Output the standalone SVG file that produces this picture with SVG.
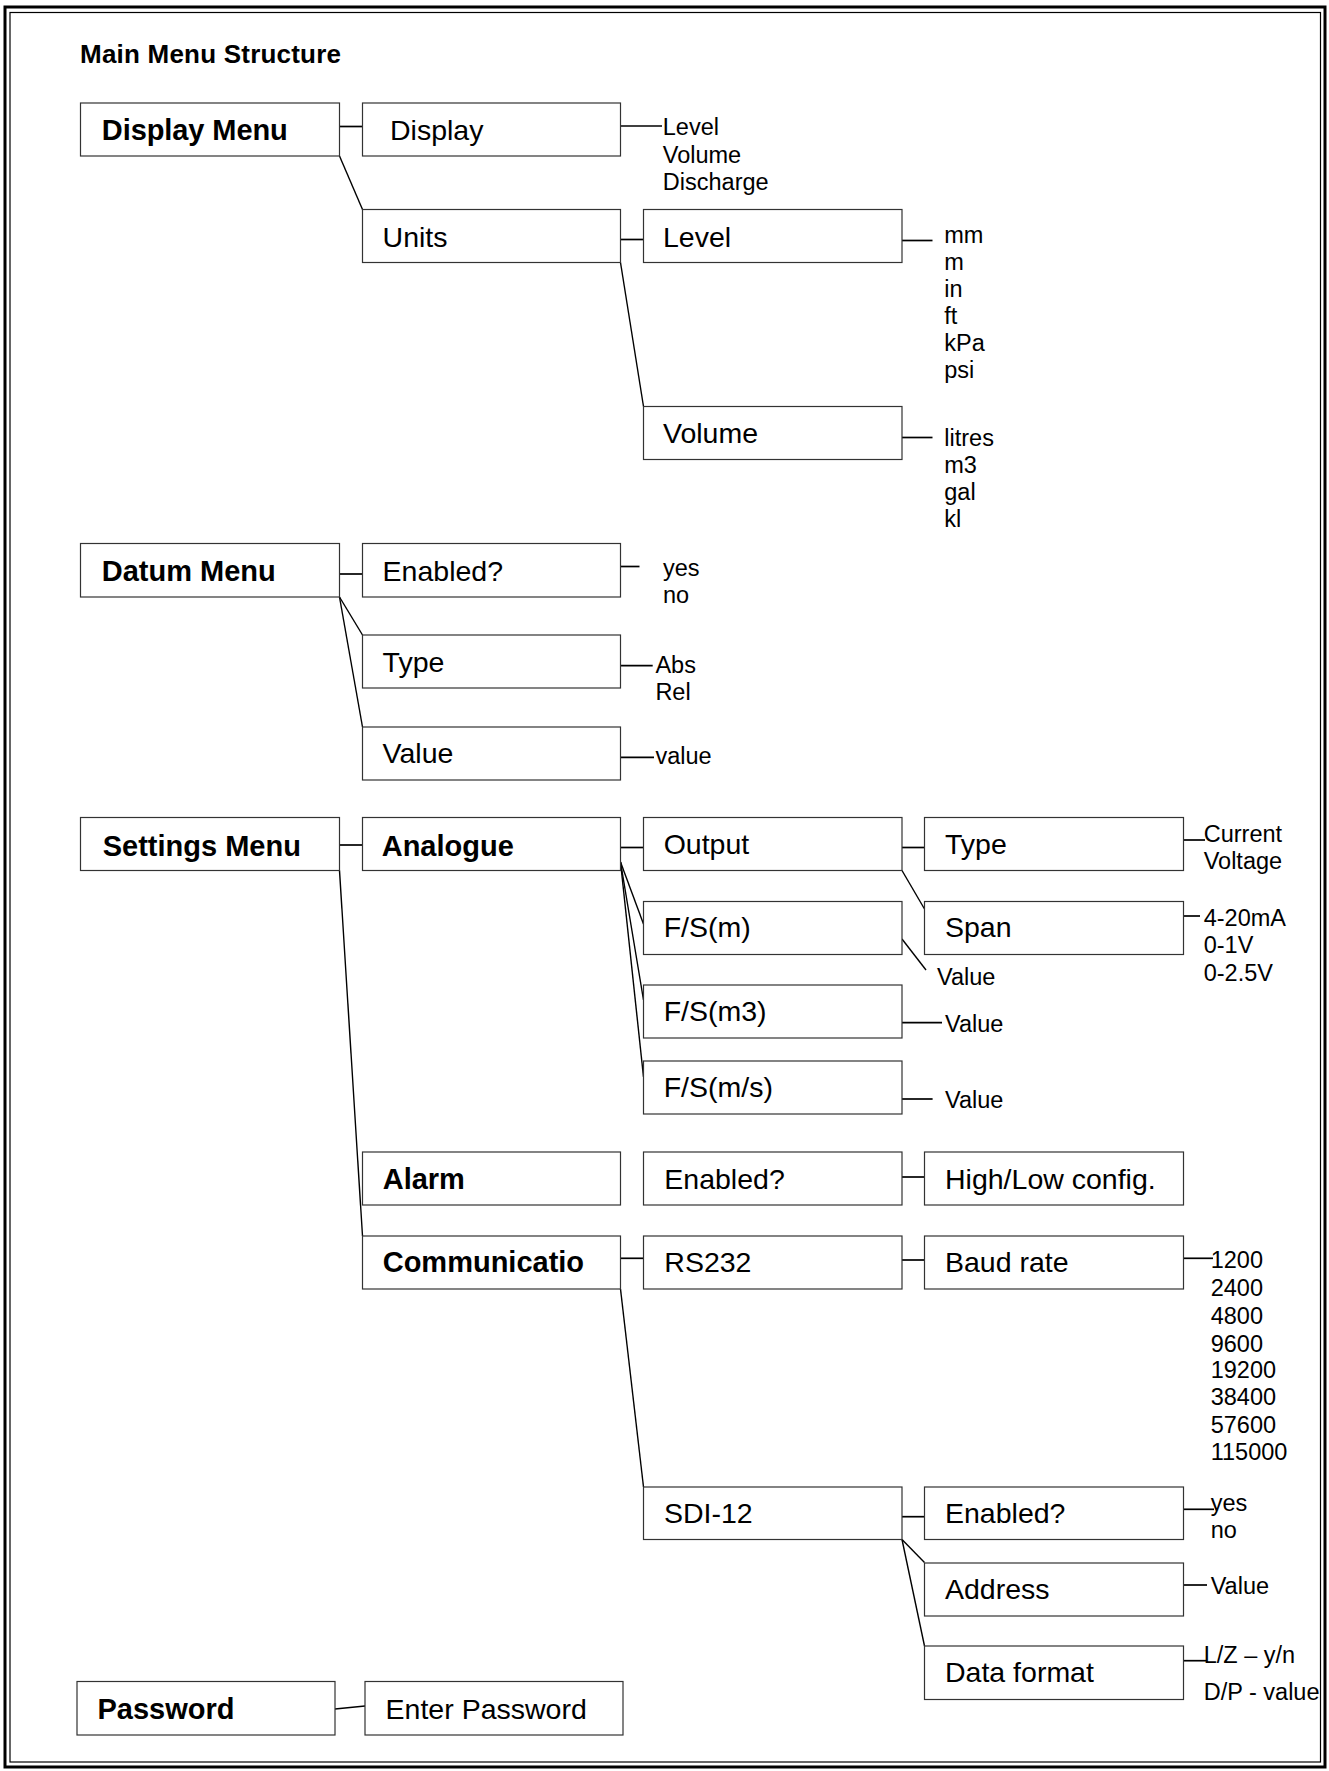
<svg xmlns="http://www.w3.org/2000/svg" width="1329" height="1771" viewBox="0 0 1329 1771">
<style>
text{font-family:"Liberation Sans",Arial,sans-serif;fill:#000}
.b{font-size:29px;font-weight:bold}
.r{font-size:28.5px}
.l{font-size:23.5px}
.t{font-size:26px;font-weight:bold}
.box{fill:#fff;stroke:#333;stroke-width:1.2}
#connectors line{stroke:#000;stroke-width:1.7}
#connectors line.d{stroke-width:1.4}
</style>
<rect width="1329" height="1771" fill="#fff"/>
<rect x="5" y="7" width="1320" height="1760" fill="none" stroke="#000" stroke-width="3"/>
<rect x="10" y="12.5" width="1310.5" height="1749.5" fill="none" stroke="#000" stroke-width="1.2"/>
<text class="t" x="80" y="63" textLength="261">Main Menu Structure</text>

<g id="connectors">
<line x1="339.5" y1="126.5" x2="362.5" y2="126.5"/>
<line x1="620.5" y1="126" x2="662" y2="126"/>
<line class="d" x1="339.5" y1="156" x2="362.5" y2="209.5"/>
<line x1="620.5" y1="239.5" x2="643.5" y2="239.5"/>
<line x1="902" y1="240.5" x2="932.5" y2="240.5"/>
<line class="d" x1="620.5" y1="262.5" x2="643.5" y2="406.5"/>
<line x1="902" y1="437.5" x2="932.5" y2="437.5"/>
<line x1="339.5" y1="574" x2="362.5" y2="574"/>
<line x1="620.5" y1="566.5" x2="639.5" y2="566.5"/>
<line class="d" x1="339.5" y1="597" x2="362.5" y2="635"/>
<line x1="620.5" y1="665.7" x2="652.7" y2="665.7"/>
<line class="d" x1="339.5" y1="597" x2="362.5" y2="727"/>
<line x1="620.5" y1="757.3" x2="654" y2="757.3"/>
<line x1="339.5" y1="845" x2="362.5" y2="845"/>
<line x1="620.5" y1="847.5" x2="643.5" y2="847.5"/>
<line x1="902" y1="847.5" x2="924.5" y2="847.5"/>
<line x1="1183.5" y1="840" x2="1205" y2="840"/>
<line class="d" x1="902" y1="870.5" x2="924.5" y2="909"/>
<line x1="1183.5" y1="916" x2="1200" y2="916"/>
<line class="d" x1="620.5" y1="862" x2="643.5" y2="924"/>
<line class="d" x1="620.5" y1="862" x2="643.5" y2="1000"/>
<line class="d" x1="620.5" y1="862" x2="643.5" y2="1077"/>
<line class="d" x1="902" y1="939" x2="926" y2="970"/>
<line x1="902" y1="1022.7" x2="942" y2="1022.7"/>
<line x1="902" y1="1099" x2="932.6" y2="1099"/>
<line class="d" x1="339.5" y1="870.5" x2="362.5" y2="1236"/>
<line x1="902" y1="1177" x2="924.5" y2="1177"/>
<line x1="620.5" y1="1258.3" x2="643.5" y2="1258.3"/>
<line x1="902" y1="1260" x2="924.5" y2="1260"/>
<line x1="1183.5" y1="1258.3" x2="1213" y2="1258.3"/>
<line class="d" x1="620.5" y1="1289" x2="643.5" y2="1487"/>
<line x1="902" y1="1516.7" x2="924.5" y2="1516.7"/>
<line x1="1183.5" y1="1509.3" x2="1214" y2="1509.3"/>
<line class="d" x1="902" y1="1539.5" x2="924.5" y2="1562.5"/>
<line x1="1183.5" y1="1585" x2="1207" y2="1585"/>
<line class="d" x1="902" y1="1539.5" x2="924.5" y2="1646"/>
<line x1="1183.5" y1="1660.7" x2="1207" y2="1660.7"/>
<line x1="335" y1="1709" x2="365" y2="1706"/>
</g>

<g id="display-menu"><rect class="box" x="80.5" y="103" width="259" height="53"/><text class="b" x="101.8" y="140" textLength="186">Display Menu</text></g>
<g id="display"><rect class="box" x="362.5" y="103" width="258" height="53"/><text class="r" x="390" y="140">Display</text>
<text class="l" x="662.8" y="135">Level</text><text class="l" x="662.8" y="163.3">Volume</text><text class="l" x="662.8" y="190">Discharge</text></g>
<g id="units"><rect class="box" x="362.5" y="209.5" width="258" height="53"/><text class="r" x="382.6" y="246.7">Units</text></g>
<g id="units-level"><rect class="box" x="643.5" y="209.5" width="258.5" height="53"/><text class="r" x="663" y="246.7">Level</text>
<text class="l" x="944.3" y="243">mm</text><text class="l" x="944.3" y="270">m</text><text class="l" x="944.3" y="297">in</text><text class="l" x="944.3" y="324">ft</text><text class="l" x="944.3" y="351">kPa</text><text class="l" x="944.3" y="378">psi</text></g>
<g id="units-volume"><rect class="box" x="643.5" y="406.5" width="258.5" height="53"/><text class="r" x="663" y="443">Volume</text>
<text class="l" x="944.3" y="446">litres</text><text class="l" x="944.3" y="473">m3</text><text class="l" x="944.3" y="500">gal</text><text class="l" x="944.3" y="527">kl</text></g>

<g id="datum-menu"><rect class="box" x="80.5" y="543.5" width="259" height="53.5"/><text class="b" x="101.8" y="581">Datum Menu</text></g>
<g id="datum-enabled"><rect class="box" x="362.5" y="543.5" width="258" height="53.5"/><text class="r" x="382.6" y="581">Enabled?</text>
<text class="l" x="663" y="576">yes</text><text class="l" x="663" y="603">no</text></g>
<g id="datum-type"><rect class="box" x="362.5" y="635" width="258" height="53"/><text class="r" x="382.6" y="671.7">Type</text>
<text class="l" x="655.4" y="673">Abs</text><text class="l" x="655.4" y="700">Rel</text></g>
<g id="datum-value"><rect class="box" x="362.5" y="727" width="258" height="53"/><text class="r" x="382.6" y="763.3">Value</text>
<text class="l" x="655.4" y="764">value</text></g>

<g id="settings-menu"><rect class="box" x="80.5" y="817.5" width="259" height="53"/><text class="b" x="102.7" y="855.7">Settings Menu</text></g>
<g id="analogue"><rect class="box" x="362.5" y="817.5" width="258" height="53"/><text class="b" x="381.7" y="855.7">Analogue</text></g>
<g id="output"><rect class="box" x="643.5" y="817.5" width="258.5" height="53"/><text class="r" x="663.7" y="854">Output</text></g>
<g id="output-type"><rect class="box" x="924.5" y="817.5" width="259" height="53"/><text class="r" x="945" y="854">Type</text>
<text class="l" x="1203.7" y="842">Current</text><text class="l" x="1203.7" y="869">Voltage</text></g>
<g id="span"><rect class="box" x="924.5" y="901.5" width="259" height="53"/><text class="r" x="945" y="937">Span</text>
<text class="l" x="1203.7" y="926">4-20mA</text><text class="l" x="1203.7" y="953">0-1V</text><text class="l" x="1203.7" y="980.5">0-2.5V</text></g>
<g id="fs-m"><rect class="box" x="643.5" y="901.5" width="258.5" height="53"/><text class="r" x="663.7" y="937">F/S(m)</text>
<text class="l" x="937" y="985">Value</text></g>
<g id="fs-m3"><rect class="box" x="643.5" y="985" width="258.5" height="53"/><text class="r" x="663.7" y="1020.5">F/S(m3)</text>
<text class="l" x="945" y="1031.7">Value</text></g>
<g id="fs-ms"><rect class="box" x="643.5" y="1061" width="258.5" height="53"/><text class="r" x="663.7" y="1097">F/S(m/s)</text>
<text class="l" x="945" y="1108.3">Value</text></g>

<g id="alarm"><rect class="box" x="362.5" y="1152" width="258" height="53"/><text class="b" x="382.7" y="1189">Alarm</text></g>
<g id="alarm-enabled"><rect class="box" x="643.5" y="1152" width="258.5" height="53"/><text class="r" x="664.3" y="1189">Enabled?</text></g>
<g id="high-low"><rect class="box" x="924.5" y="1152" width="259" height="53"/><text class="r" x="945" y="1189">High/Low config.</text></g>

<g id="communication"><rect class="box" x="362.5" y="1236" width="258" height="53"/><text class="b" x="382.7" y="1271.7">Communicatio</text></g>
<g id="rs232"><rect class="box" x="643.5" y="1236" width="258.5" height="53"/><text class="r" x="664.3" y="1271.7">RS232</text></g>
<g id="baud-rate"><rect class="box" x="924.5" y="1236" width="259" height="53"/><text class="r" x="945" y="1271.7">Baud rate</text>
<text class="l" x="1210.7" y="1268.3">1200</text><text class="l" x="1210.7" y="1296">2400</text><text class="l" x="1210.7" y="1323.7">4800</text><text class="l" x="1210.7" y="1351.5">9600</text><text class="l" x="1210.7" y="1378">19200</text><text class="l" x="1210.7" y="1405">38400</text><text class="l" x="1210.7" y="1433">57600</text><text class="l" x="1210.7" y="1460">115000</text></g>

<g id="sdi-12"><rect class="box" x="643.5" y="1487" width="258.5" height="52.5"/><text class="r" x="664" y="1523">SDI-12</text></g>
<g id="sdi-enabled"><rect class="box" x="924.5" y="1487" width="259" height="52.5"/><text class="r" x="945" y="1523">Enabled?</text>
<text class="l" x="1210.7" y="1511">yes</text><text class="l" x="1210.7" y="1538">no</text></g>
<g id="address"><rect class="box" x="924.5" y="1563" width="259" height="53"/><text class="r" x="945" y="1598.5">Address</text>
<text class="l" x="1210.7" y="1594">Value</text></g>
<g id="data-format"><rect class="box" x="924.5" y="1646" width="259" height="53.5"/><text class="r" x="945" y="1682">Data format</text>
<text class="l" x="1203.7" y="1663">L/Z – y/n</text><text class="l" x="1203.7" y="1700">D/P - value</text></g>

<g id="password"><rect class="box" x="77" y="1681.5" width="258" height="53.5"/><text class="b" x="97.5" y="1718.5">Password</text></g>
<g id="enter-password"><rect class="box" x="365" y="1681.5" width="258" height="53.5"/><text class="r" x="385.6" y="1718.5">Enter Password</text></g>
</svg>
